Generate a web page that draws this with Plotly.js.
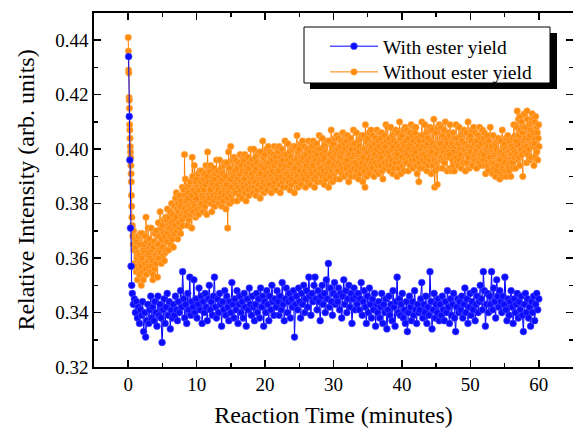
<!DOCTYPE html>
<html>
<head>
<meta charset="utf-8">
<script src="https://cdn.plot.ly/plotly-3.0.1.min.js"></script>
<style>html,body{margin:0;padding:0;background:#fff;}#chart{width:573px;height:428px;}</style>
</head>
<body>
<div id="chart"></div>
<script>
// ---- Data ----
const seriesNames = ["With ester yield", "Without ester yield"];
const xTickVals = [0, 10, 20, 30, 40, 50, 60];
const yTickVals = [0.32, 0.34, 0.36, 0.38, 0.40, 0.42, 0.44];

// initial fast drop (explicit times, minutes)
const orangeHeadX = [0.00, 0.03, 0.06, 0.09, 0.12, 0.15, 0.18, 0.21, 0.24, 0.27, 0.30, 0.33, 0.36, 0.39, 0.42, 0.45, 0.48, 0.51, 0.54];
const orangeHeadY = [0.441, 0.436, 0.429, 0.428, 0.419, 0.418, 0.415, 0.409, 0.407, 0.404, 0.401, 0.399, 0.397, 0.394, 0.391, 0.388, 0.383, 0.379, 0.375];
// evenly sampled body: starts at orangeStart, one sample every orangeStep minutes
const orangeStart = 0.6;
const orangeStep = 0.0625;
const orangeBodyY = [
0.372,0.368,0.365,0.370,0.363,0.358,0.367,0.357,0.364,0.355,0.366,0.360,0.352,0.362,0.368,0.356,0.361,0.354,0.365,0.369,
0.357,0.350,0.360,0.369,0.355,0.363,0.352,0.365,0.362,0.358,0.368,0.356,0.375,0.354,0.366,0.361,0.359,0.371,0.357,0.362,
0.367,0.360,0.355,0.365,0.371,0.357,0.363,0.359,0.352,0.354,0.364,0.366,0.356,0.369,0.361,0.358,0.370,0.360,0.365,0.353,
0.365,0.373,0.360,0.368,0.363,0.377,0.362,0.371,0.358,0.367,0.372,0.364,0.361,0.369,0.374,0.359,0.368,0.362,0.375,0.363,
0.374,0.366,0.378,0.369,0.372,0.363,0.375,0.371,0.368,0.377,0.365,0.373,0.380,0.367,0.370,0.376,0.364,0.374,0.369,0.379,
0.372,0.382,0.375,0.384,0.370,0.378,0.367,0.380,0.377,0.373,0.383,0.371,0.379,0.369,0.381,0.376,0.374,0.386,0.372,0.377,
0.385,0.378,0.398,0.383,0.389,0.375,0.381,0.377,0.386,0.372,0.382,0.384,0.374,0.387,0.379,0.376,0.388,0.378,0.383,0.371,
0.397,0.390,0.377,0.385,0.380,0.394,0.379,0.388,0.375,0.384,0.389,0.376,0.378,0.386,0.391,0.376,0.385,0.379,0.392,0.380,
0.388,0.380,0.392,0.383,0.386,0.377,0.389,0.385,0.382,0.391,0.379,0.387,0.394,0.381,0.376,0.390,0.399,0.388,0.383,0.393,
0.382,0.392,0.385,0.394,0.380,0.388,0.377,0.390,0.387,0.383,0.393,0.381,0.389,0.379,0.391,0.386,0.384,0.396,0.382,0.387,
0.392,0.385,0.380,0.390,0.396,0.382,0.388,0.384,0.393,0.379,0.389,0.391,0.381,0.394,0.386,0.383,0.395,0.385,0.390,0.378,
0.387,0.395,0.382,0.371,0.385,0.399,0.384,0.393,0.380,0.389,0.401,0.386,0.383,0.391,0.396,0.381,0.390,0.384,0.397,0.385,
0.392,0.384,0.396,0.387,0.390,0.381,0.393,0.389,0.386,0.395,0.383,0.391,0.398,0.385,0.388,0.394,0.382,0.392,0.387,0.397,
0.386,0.396,0.389,0.398,0.384,0.392,0.381,0.394,0.391,0.387,0.397,0.385,0.393,0.383,0.395,0.390,0.388,0.400,0.386,0.391,
0.396,0.389,0.384,0.394,0.400,0.386,0.392,0.388,0.397,0.383,0.393,0.395,0.385,0.398,0.390,0.387,0.399,0.389,0.394,0.382,
0.391,0.399,0.386,0.394,0.389,0.403,0.388,0.397,0.384,0.393,0.398,0.390,0.387,0.395,0.400,0.385,0.394,0.388,0.401,0.389,
0.395,0.387,0.399,0.390,0.393,0.384,0.396,0.392,0.389,0.398,0.386,0.394,0.401,0.388,0.391,0.397,0.385,0.395,0.390,0.400,
0.389,0.399,0.392,0.401,0.387,0.395,0.384,0.397,0.394,0.390,0.400,0.388,0.396,0.386,0.398,0.393,0.391,0.403,0.389,0.394,
0.398,0.391,0.386,0.396,0.402,0.388,0.394,0.390,0.399,0.385,0.395,0.397,0.387,0.400,0.392,0.389,0.401,0.391,0.396,0.384,
0.393,0.401,0.388,0.396,0.391,0.405,0.390,0.399,0.386,0.395,0.400,0.392,0.389,0.397,0.402,0.387,0.396,0.390,0.403,0.391,
0.397,0.389,0.401,0.392,0.395,0.386,0.398,0.394,0.391,0.400,0.388,0.396,0.403,0.390,0.393,0.399,0.387,0.397,0.392,0.402,
0.391,0.401,0.394,0.403,0.389,0.397,0.386,0.399,0.396,0.392,0.402,0.390,0.398,0.388,0.400,0.395,0.393,0.405,0.391,0.396,
0.400,0.393,0.388,0.398,0.404,0.390,0.396,0.392,0.401,0.387,0.397,0.399,0.389,0.402,0.394,0.391,0.403,0.393,0.398,0.386,
0.395,0.403,0.390,0.398,0.393,0.407,0.392,0.401,0.388,0.397,0.402,0.394,0.391,0.399,0.404,0.389,0.398,0.392,0.405,0.393,
0.400,0.392,0.404,0.395,0.398,0.389,0.401,0.397,0.394,0.403,0.391,0.399,0.406,0.393,0.396,0.402,0.390,0.400,0.395,0.405,
0.393,0.403,0.396,0.405,0.391,0.399,0.388,0.401,0.398,0.394,0.404,0.392,0.400,0.390,0.402,0.397,0.395,0.407,0.393,0.398,
0.402,0.395,0.390,0.400,0.406,0.392,0.398,0.394,0.403,0.389,0.399,0.401,0.391,0.404,0.396,0.393,0.405,0.395,0.400,0.388,
0.397,0.405,0.392,0.400,0.386,0.409,0.394,0.403,0.390,0.399,0.404,0.396,0.393,0.401,0.406,0.391,0.400,0.394,0.407,0.395,
0.401,0.393,0.405,0.396,0.399,0.390,0.402,0.398,0.395,0.404,0.392,0.400,0.407,0.394,0.397,0.403,0.391,0.401,0.396,0.406,
0.394,0.404,0.397,0.406,0.392,0.400,0.389,0.402,0.399,0.395,0.405,0.393,0.401,0.409,0.403,0.398,0.396,0.408,0.394,0.399,
0.404,0.397,0.392,0.402,0.408,0.394,0.400,0.396,0.405,0.391,0.401,0.403,0.393,0.406,0.398,0.395,0.407,0.397,0.402,0.390,
0.398,0.406,0.393,0.401,0.396,0.410,0.395,0.404,0.391,0.400,0.405,0.397,0.394,0.402,0.407,0.392,0.401,0.395,0.408,0.396,
0.403,0.395,0.407,0.398,0.401,0.392,0.404,0.400,0.397,0.406,0.394,0.402,0.409,0.396,0.399,0.405,0.393,0.403,0.398,0.408,
0.396,0.406,0.399,0.408,0.394,0.402,0.391,0.404,0.401,0.397,0.388,0.395,0.403,0.393,0.405,0.400,0.398,0.410,0.396,0.401,
0.405,0.398,0.393,0.403,0.409,0.395,0.401,0.397,0.406,0.392,0.402,0.404,0.394,0.407,0.399,0.396,0.408,0.398,0.403,0.391,
0.399,0.407,0.394,0.402,0.397,0.411,0.396,0.386,0.392,0.401,0.406,0.398,0.395,0.387,0.408,0.393,0.402,0.396,0.409,0.397,
0.402,0.396,0.408,0.397,0.400,0.393,0.405,0.399,0.396,0.407,0.395,0.401,0.410,0.397,0.398,0.404,0.392,0.402,0.399,0.406,
0.397,0.405,0.398,0.409,0.393,0.401,0.392,0.403,0.402,0.396,0.406,0.394,0.404,0.392,0.404,0.401,0.397,0.409,0.395,0.402,
0.404,0.399,0.394,0.402,0.408,0.396,0.400,0.398,0.405,0.393,0.403,0.403,0.395,0.406,0.400,0.395,0.407,0.399,0.402,0.392,
0.398,0.406,0.395,0.401,0.398,0.410,0.397,0.404,0.393,0.401,0.405,0.399,0.394,0.403,0.407,0.394,0.401,0.397,0.408,0.398,
0.402,0.396,0.406,0.399,0.400,0.393,0.403,0.401,0.396,0.405,0.395,0.401,0.408,0.397,0.398,0.404,0.394,0.402,0.399,0.407,
0.396,0.404,0.398,0.406,0.394,0.400,0.391,0.402,0.400,0.395,0.405,0.394,0.401,0.392,0.403,0.399,0.397,0.408,0.395,0.400,
0.401,0.395,0.391,0.399,0.405,0.393,0.398,0.395,0.402,0.390,0.399,0.400,0.392,0.403,0.396,0.394,0.404,0.396,0.399,0.389,
0.396,0.403,0.391,0.399,0.394,0.407,0.393,0.401,0.390,0.398,0.402,0.395,0.392,0.400,0.404,0.390,0.399,0.393,0.405,0.394,
0.399,0.392,0.403,0.395,0.398,0.390,0.401,0.398,0.395,0.404,0.393,0.400,0.409,0.397,0.399,0.405,0.393,0.403,0.398,0.408,
0.414,0.405,0.396,0.411,0.397,0.405,0.394,0.407,0.412,0.400,0.410,0.398,0.406,0.390,0.408,0.403,0.401,0.413,0.399,0.404,
0.408,0.401,0.395,0.414,0.411,0.398,0.404,0.400,0.409,0.396,0.405,0.407,0.397,0.410,0.402,0.413,0.411,0.401,0.406,0.394,
0.402,0.410,0.397,0.412,0.400,0.408,0.399,0.406,0.396,0.404,0.409,0.401
];

const blueHeadX = [0.06, 0.15, 0.24, 0.33, 0.42, 0.51];
const blueHeadY = [0.434, 0.412, 0.396, 0.371, 0.357, 0.350];
const blueStart = 0.6;
const blueStep = 0.15;
const blueBodyY = [
0.347,0.343,0.345,0.340,0.344,0.338,0.342,0.336,0.341,0.339,0.344,0.333,0.340,0.331,0.337,0.343,0.336,0.341,0.346,0.338,
0.342,0.337,0.344,0.340,0.335,0.346,0.339,0.343,0.338,0.329,0.341,0.345,0.336,0.342,0.347,0.339,0.344,0.334,0.341,0.338,
0.343,0.339,0.346,0.341,0.337,0.344,0.340,0.348,0.342,0.355,0.345,0.338,0.343,0.336,0.347,0.341,0.353,0.339,0.344,0.342,
0.352,0.340,0.345,0.338,0.343,0.349,0.341,0.346,0.336,0.344,0.340,0.347,0.342,0.337,0.345,0.350,0.341,0.344,0.339,0.346,
0.353,0.342,0.338,0.345,0.340,0.347,0.343,0.335,0.344,0.341,0.348,0.339,0.346,0.342,0.337,0.344,0.340,0.351,0.343,0.338,
0.345,0.341,0.348,0.336,0.343,0.346,0.340,0.344,0.338,0.347,0.342,0.335,0.345,0.341,0.349,0.343,0.339,0.346,0.342,0.337,
0.343,0.347,0.340,0.345,0.338,0.349,0.342,0.346,0.335,0.344,0.340,0.348,0.343,0.337,0.346,0.341,0.350,0.344,0.339,0.345,
0.342,0.348,0.344,0.339,0.346,0.341,0.351,0.343,0.337,0.345,0.349,0.340,0.344,0.347,0.338,0.345,0.342,0.348,0.331,0.343,
0.346,0.341,0.349,0.344,0.338,0.347,0.343,0.350,0.340,0.345,0.348,0.342,0.353,0.346,0.339,0.347,0.344,0.350,0.353,0.345,
0.341,0.348,0.344,0.337,0.346,0.350,0.343,0.347,0.340,0.352,0.345,0.358,0.342,0.349,0.344,0.339,0.347,0.351,0.343,0.346,
0.344,0.349,0.341,0.347,0.338,0.346,0.352,0.343,0.348,0.340,0.345,0.350,0.342,0.347,0.336,0.345,0.349,0.341,0.346,0.343,
0.347,0.341,0.345,0.351,0.339,0.344,0.348,0.342,0.336,0.346,0.340,0.349,0.343,0.338,0.345,0.341,0.347,0.335,0.343,0.340,
0.344,0.338,0.342,0.347,0.336,0.343,0.340,0.345,0.334,0.341,0.346,0.339,0.343,0.337,0.348,0.342,0.335,0.344,0.353,0.340,
0.345,0.339,0.343,0.347,0.338,0.341,0.336,0.344,0.333,0.340,0.346,0.342,0.337,0.344,0.339,0.348,0.341,0.336,0.343,0.340,
0.341,0.345,0.351,0.338,0.343,0.340,0.346,0.336,0.342,0.339,0.355,0.344,0.334,0.341,0.347,0.338,0.343,0.340,0.345,0.337,
0.343,0.339,0.346,0.341,0.337,0.344,0.340,0.348,0.342,0.336,0.345,0.339,0.343,0.347,0.338,0.333,0.342,0.345,0.340,0.344,
0.341,0.346,0.338,0.343,0.349,0.340,0.345,0.336,0.342,0.347,0.339,0.344,0.341,0.348,0.337,0.343,0.346,0.340,0.344,0.350,
0.345,0.341,0.355,0.348,0.335,0.343,0.347,0.340,0.346,0.343,0.355,0.341,0.349,0.344,0.338,0.352,0.346,0.342,0.348,0.344,
0.340,0.346,0.343,0.353,0.341,0.337,0.345,0.339,0.344,0.348,0.342,0.336,0.345,0.340,0.343,0.347,0.338,0.344,0.341,0.346,
0.339,0.333,0.343,0.347,0.340,0.345,0.338,0.342,0.335,0.344,0.340,0.346,0.337,0.343,0.347,0.341,0.345
];

// ---- Styling ----
const FONT = "'Liberation Serif', 'Times New Roman', Times, serif";
const orangeLine = "#ff8000";
const orangeMarker = {color: "#ff8c0c", size: 6.5, line: {color: "#ffb060", width: 0.6}};
const blueLine = "#0000ff";
const blueMarker = {color: "#0c0cff", size: 6.8, line: {color: "#4a4aff", width: 0.6}};

const traces = [
  {x: orangeHeadX, y: orangeHeadY, type: "scatter", mode: "lines+markers", showlegend: false,
   line: {color: orangeLine, width: 1}, marker: orangeMarker},
  {x0: orangeStart, dx: orangeStep, y: orangeBodyY, type: "scatter", mode: "lines+markers",
   name: seriesNames[1], legend: "legend2", line: {color: orangeLine, width: 1}, marker: orangeMarker},
  {x: blueHeadX, y: blueHeadY, type: "scatter", mode: "lines+markers", showlegend: false,
   line: {color: blueLine, width: 1}, marker: blueMarker},
  {x0: blueStart, dx: blueStep, y: blueBodyY, type: "scatter", mode: "lines+markers",
   name: seriesNames[0], legend: "legend", line: {color: blueLine, width: 1}, marker: blueMarker}
];

// plot-area geometry (pixels) used to place legend box shapes
const W = 573, H = 428, L = 94, R = 0, T = 13, B = 61;
const pw = W - L - R, ph = H - T - B;
const px = v => (v - L) / pw;
const py = v => (H - B - v) / ph;

const axisCommon = {
  showline: true, linecolor: "#000", linewidth: 1.6, mirror: "allticks",
  ticks: "inside", ticklen: 7, tickwidth: 1.5, tickcolor: "#000",
  showgrid: false, zeroline: false,
  tickfont: {family: FONT, size: 19, color: "#000"}
};

const legendCommon = {
  xanchor: "left", yanchor: "top",
  bgcolor: "rgba(0,0,0,0)", borderwidth: 0,
  font: {family: FONT, size: 19.5, color: "#000"},
  itemwidth: 48
};

const layout = {
  width: W, height: H,
  margin: {l: L, r: R, t: T, b: B},
  paper_bgcolor: "#fff", plot_bgcolor: "#fff",
  showlegend: true,
  xaxis: Object.assign({}, axisCommon, {
    range: [-5, 65], tickvals: xTickVals,
    minor: {ticks: "inside", ticklen: 4, tickwidth: 1.5, tickcolor: "#000", dtick: 5, tick0: 0},
    title: {text: "Reaction Time (minutes)", font: {family: FONT, size: 24, color: "#000"}, standoff: 12}
  }),
  yaxis: Object.assign({}, axisCommon, {
    range: [0.32, 0.45], tickvals: yTickVals, tickformat: ".2f",
    minor: {ticks: "inside", ticklen: 4, tickwidth: 1.5, tickcolor: "#000", dtick: 0.01, tick0: 0.32},
    title: {text: "Relative Intensity (arb. units)", font: {family: FONT, size: 24, color: "#000"}, standoff: 14}
  }),
  legend: Object.assign({}, legendCommon, {x: px(325), y: py(27)}),
  legend2: Object.assign({}, legendCommon, {x: px(325), y: py(52.7)}),
  shapes: [
    {type: "rect", xref: "paper", yref: "paper", x0: px(310), x1: px(557), y0: py(89), y1: py(33),
     fillcolor: "#000", line: {width: 0}, layer: "above"},
    {type: "rect", xref: "paper", yref: "paper", x0: px(304), x1: px(550), y0: py(83), y1: py(27),
     fillcolor: "#fff", line: {color: "#000", width: 1}, layer: "above"}
  ]
};

Plotly.newPlot("chart", traces, layout, {staticPlot: true, displayModeBar: false});
</script>
</body>
</html>
